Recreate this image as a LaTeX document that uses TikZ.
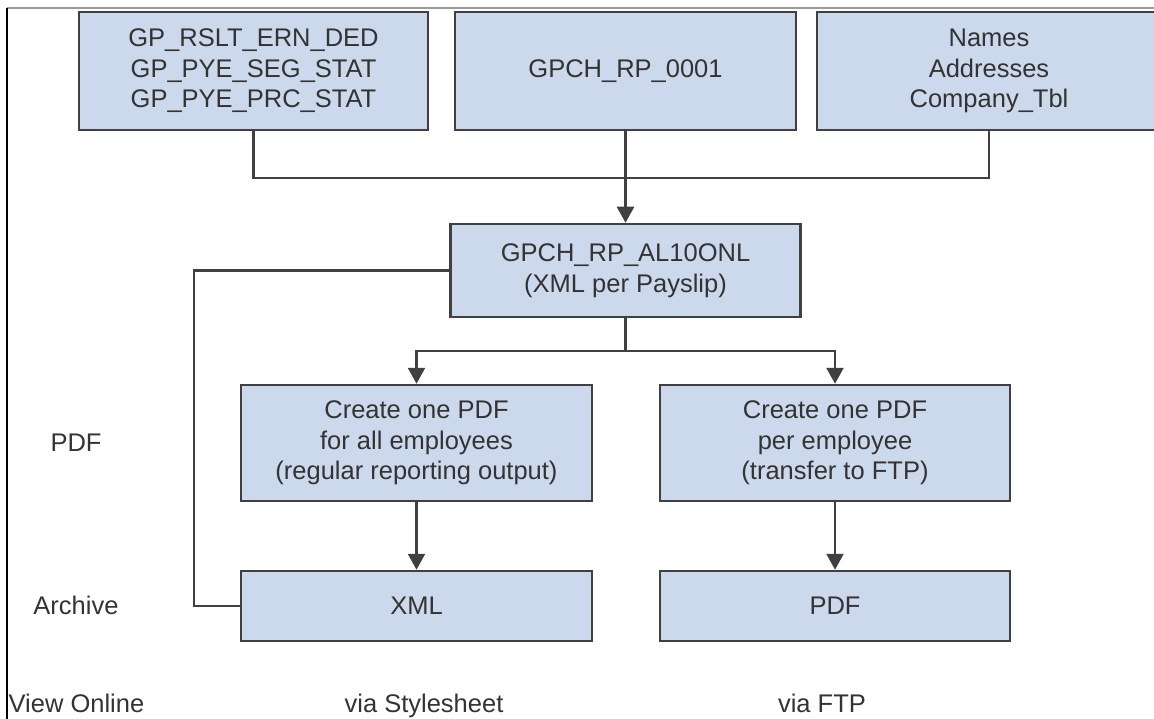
\documentclass[tikz,border=0pt]{standalone}
\usepackage{fontspec}
\setmainfont{Liberation Sans}
\usepackage{tikz}
\usetikzlibrary{arrows.meta}
\definecolor{boxblue}{HTML}{CCD9EC}
\definecolor{linegray}{HTML}{404040}
\definecolor{textgray}{HTML}{333333}
\definecolor{framegray}{HTML}{9A9A9A}
\tikzset{
	box/.style={draw=linegray, fill=boxblue, line width=2.5pt, text=textgray, align=center, inner sep=0pt},
	lbl/.style={text=textgray, inner sep=0pt, anchor=base},
	conn/.style={draw=linegray, line width=2.5pt},
	arr/.style={conn, -{Triangle[length=16pt,width=17pt]}}
}

\begin{document}
\begin{tikzpicture}[x=1pt, y=-1pt, font=\fontsize{25.5}{30.5}\selectfont]
			%%%%% START %%%%%
			\useasboundingbox (0, 0) rectangle (1154, 719);
			
			\draw[framegray, line width=1.5pt] (7, 8) -- (1154, 8);
			\draw[black, line width=1.5pt] (7, 8) -- (7, 719);
			
			\node[box, minimum width=349pt, minimum height=118pt] (gprslt) at (253.5, 71) {GP\_RSLT\_ERN\_DED\\GP\_PYE\_SEG\_STAT\\GP\_PYE\_PRC\_STAT};
			\node[box, minimum width=341pt, minimum height=118pt] (gpchrp) at (625.5, 71) {GPCH\_RP\_0001};
			\node[box, minimum width=344pt, minimum height=118pt] (names) at (989, 71) {Names\\Addresses\\Company\_Tbl};
			
			\node[box, minimum width=350pt, minimum height=93pt] (al10) at (625.5, 270.5) {GPCH\_RP\_AL10ONL\\(XML per Payslip)};
			
			\node[box, minimum width=351pt, minimum height=116pt] (allpdf) at (416.5, 443) {Create one PDF\\for all employees\\(regular reporting output)};
			\node[box, minimum width=350pt, minimum height=116pt] (emppdf) at (835, 443) {Create one PDF\\per employee\\(transfer to FTP)};
			
			\node[box, minimum width=351pt, minimum height=70pt] (xml) at (416.5, 606) {XML};
			\node[box, minimum width=350pt, minimum height=70pt] (pdf) at (835, 606) {PDF};
			
			\node[lbl] (lblpdf) at (76, 451) {PDF};
			\node[lbl] (lblarch) at (76, 614) {Archive};
			\node[lbl] (lblview) at (76.5, 712) {View Online};
			\node[lbl] (lblsty) at (424, 712) {via Stylesheet};
			\node[lbl] (lblftp) at (822, 712) {via FTP};
			
			\coordinate (bus) at (625.5, 178);
			\coordinate (split) at (625.5, 351);
			\coordinate (back) at (194, 443);
			
			\draw[conn] (gprslt.south) |- (bus) -| (names.south);
			\draw[arr] (gpchrp.south) -- (al10.north);
			
			\draw[conn] (al10.south) -- (split);
			\draw[arr] (split) -| (allpdf.north);
			\draw[arr] (split) -| (emppdf.north);
			
			\draw[arr] (allpdf.south) -- (xml.north);
			\draw[arr] (emppdf.south) -- (pdf.north);
			
			\draw[conn] (xml.west) -| (back) |- (al10.west);
			
			%%%%% END %%%%%
		\end{tikzpicture}
\end{document}
